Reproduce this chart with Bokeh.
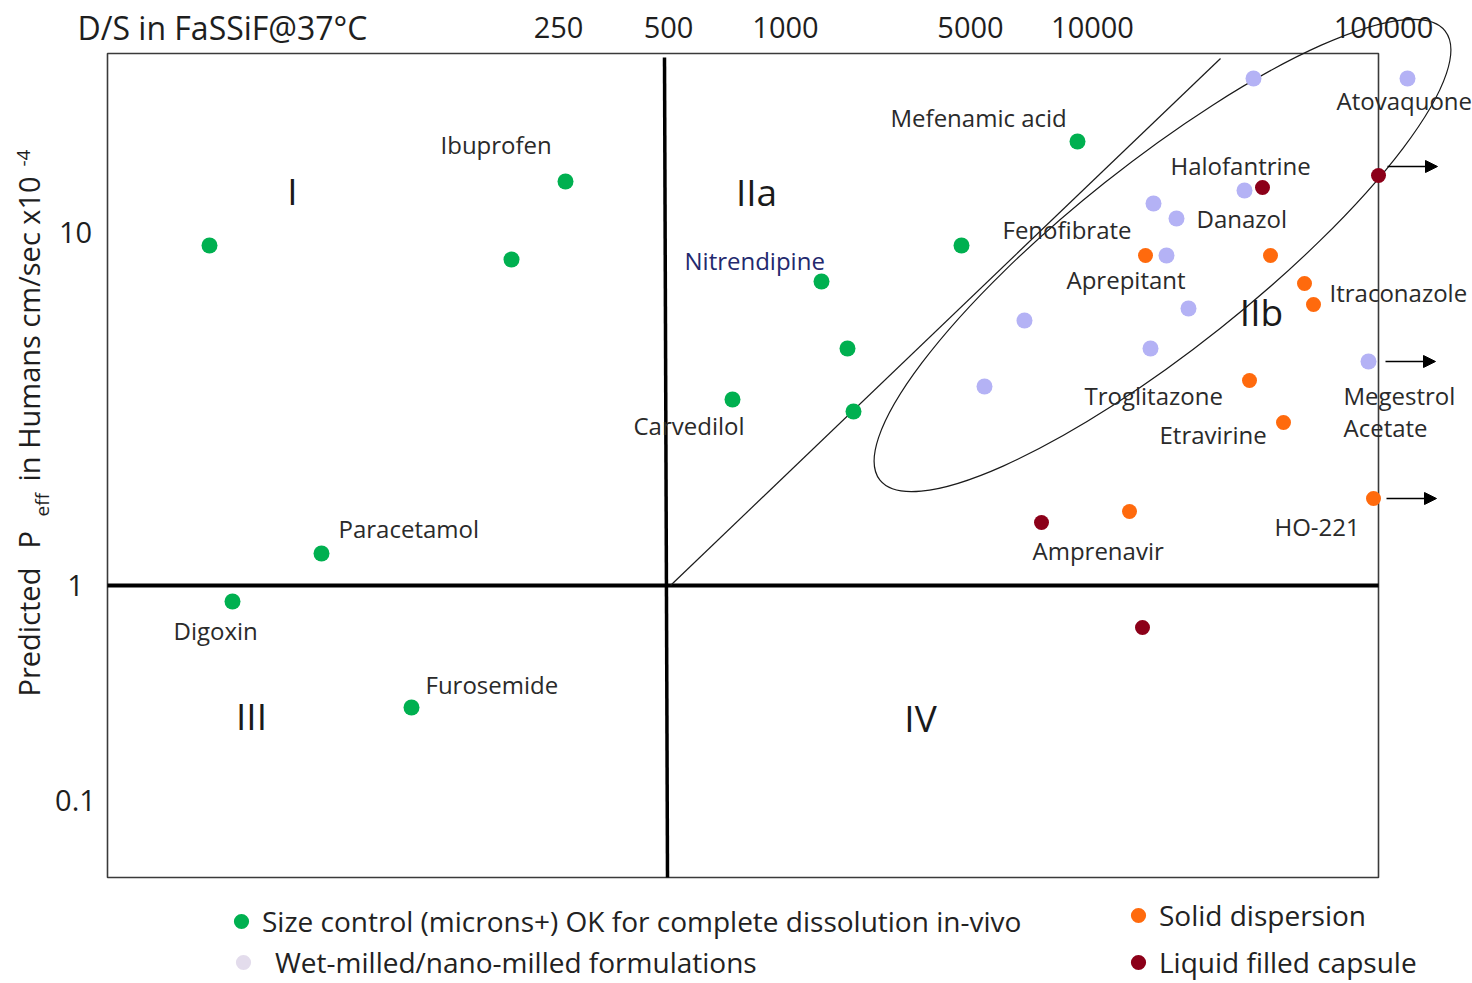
import math
from bokeh.plotting import figure
from bokeh.models import (Range1d, Arrow, NormalHead, Legend, LegendItem)
from bokeh.core.properties import value
from bokeh.embed import file_html
from bokeh.resources import INLINE

FONT = "Open Sans"

# ---------------- axes (hand-drawn, non-uniform: chart position units) ----------------
ds_tick_pos = [451, 561, 678, 863, 985, 1276]
ds_tick_labels = ["250", "500", "1000", "5000", "10000", "100000"]
peff_tick_pos = [645, 292, 77]
peff_tick_labels = ["10", "1", "0.1"]

# ---------------- series (chart position units) ----------------
size_control_x = [102, 458, 404, 214, 125, 304, 625, 714, 740, 746, 854, 970]
size_control_y = [632, 696, 618, 324, 276, 170, 478, 596, 529, 466, 632, 736]

wet_milled_x = [1146, 1300, 1137, 1046, 1069, 1059, 1081, 917, 1043, 877, 1261]
wet_milled_y = [799, 799, 687, 674, 659, 622, 569, 557, 529, 491, 516]

solid_disp_x = [1038, 1163, 1197, 1206, 1142, 1176, 1022, 1266]
solid_disp_y = [622, 622, 594, 573, 497, 455, 366, 379]

liquid_caps_x = [1155, 1271, 934, 1035]
liquid_caps_y = [690, 702, 355, 250]

# drug name labels
drug_names = ["Ibuprofen", "Paracetamol", "Digoxin", "Furosemide", "Carvedilol",
              "Mefenamic acid", "Fenofibrate", "Aprepitant", "Halofantrine", "Danazol",
              "Atovaquone", "Itraconazole", "Troglitazone", "Etravirine", "Megestrol",
              "Acetate", "HO-221", "Amprenavir"]
drug_label_x = [333, 231, 66, 318, 526, 783, 895, 959, 1063, 1089,
                1229, 1222, 977, 1052, 1236, 1236, 1167, 925]
drug_label_y = [733, 349, 247, 193, 452, 760, 648, 598, 712, 659,
                777, 585, 482, 443, 482, 450, 351, 327]
highlight_name = ["Nitrendipine"]
highlight_x = [577]
highlight_y = [617]

# BCS class labels
class_names = ["I", "IIa", "IIb", "III", "IV"]
class_x = [185, 649, 1154, 144, 813]
class_y = [687, 686, 566, 162, 160]

# "beyond the axis" arrows
arrow_x0 = [1280, 1278, 1279]
arrow_x1 = [1330, 1328, 1329]
arrow_y = [711, 516, 379]

# boundaries
box_right, box_top = 1271, 824
peff_one = 292          # Peff = 1 level
ds_500_top, ds_500_bottom = 557, 560
diag_x = [563, 1113]
diag_y = [292, 819]
ell_cx, ell_cy, ell_a, ell_b, ell_angle = 1055, 622, 361, 93, 38.5

# axis titles
x_title = "D/S in FaSSiF@37°C"
y_title_parts = ["Predicted", "P", "eff", "in Humans cm/sec x10", "-4"]
y_title_pos = [181, 329, 361, 396, 711]
y_title_base = [-79, -79, -66, -79, -84]
y_title_size = ["29px", "29px", "19px", "29px", "19px"]

GREEN = "#00b050"
LAV = "#b4b2f5"
LAV_LEGEND = "#e3dcec"
ORANGE = "#ff6a0d"
DRED = "#8c0019"
TXT = "#2a2a2a"
AX = "#1e1e1e"

p = figure(width=1472, height=983, x_range=Range1d(-107, 1365), y_range=Range1d(-106, 877),
           x_axis_location=None, y_axis_location=None, output_backend="svg",
           toolbar_location=None, min_border=0)
p.outline_line_color = None
p.grid.visible = False
p.background_fill_color = "white"
p.border_fill_color = "white"

# tick labels of the hand-drawn axes
p.text(ds_tick_pos, [850] * len(ds_tick_pos), text=ds_tick_labels, text_font=value(FONT),
       text_font_size="29px", text_color=AX, text_align="center", text_baseline="middle")
p.text([-32] * len(peff_tick_pos), peff_tick_pos, text=peff_tick_labels, text_font=value(FONT),
       text_font_size="29px", text_color=AX, text_align="center", text_baseline="middle")
p.text([-30], [850], text=[x_title], text_font=value(FONT), text_font_size="32px",
       text_color=AX, text_align="left", text_baseline="middle")
for txt, ly, lx, fs in zip(y_title_parts, y_title_pos, y_title_base, y_title_size):
    p.text([lx], [ly], text=[txt], angle=math.pi / 2, text_font=value(FONT),
           text_font_size=fs, text_color=AX, text_align="left", text_baseline="alphabetic")

# box and quadrant lines
p.quad(left=[0], right=[box_right], bottom=[0], top=[box_top], fill_color=None,
       line_color="#3a3a3a", line_width=1.6)
p.line([0, box_right], [peff_one, peff_one], line_color="black", line_width=4)
p.line([ds_500_top, ds_500_bottom], [box_top - 4, 0], line_color="black", line_width=3.5)
p.line(diag_x, diag_y, line_color="#1a1a1a", line_width=1.2)

# ellipse
p.ellipse(x=[ell_cx], y=[ell_cy], width=[2 * ell_a], height=[2 * ell_b],
          angle=math.radians(ell_angle), fill_color=None, line_color="#1a1a1a", line_width=1.2)

# points (the pale copy underneath the wet-milled points supplies the legend swatch colour)
r_green = p.scatter(size_control_x, size_control_y, size=16, fill_color=GREEN, line_color=None)
r_lav_legend = p.scatter(wet_milled_x, wet_milled_y, size=15, fill_color=LAV_LEGEND, line_color=None)
r_lav = p.scatter(wet_milled_x, wet_milled_y, size=16, fill_color=LAV, line_color=None)
r_orange = p.scatter(solid_disp_x, solid_disp_y, size=15, fill_color=ORANGE, line_color=None)
r_dred = p.scatter(liquid_caps_x, liquid_caps_y, size=15, fill_color=DRED, line_color=None)

# arrows
for x0, x1, y in zip(arrow_x0, arrow_x1, arrow_y):
    p.add_layout(Arrow(x_start=x0, y_start=y, x_end=x1, y_end=y, line_width=1.6,
                       line_color="black",
                       end=NormalHead(size=12, fill_color="black", line_color="black")))

# text labels
p.text(drug_label_x, drug_label_y, text=drug_names, text_font=value(FONT),
       text_font_size="24px", text_color=TXT, text_align="left", text_baseline="middle")
p.text(highlight_x, highlight_y, text=highlight_name, text_font=value(FONT),
       text_font_size="24px", text_color="#23296e", text_align="left", text_baseline="middle")
p.text(class_x, class_y, text=class_names, text_font=value(FONT),
       text_font_size="37px", text_color="#1a1a1a", text_align="center", text_baseline="middle")

# legends
def make_legend(items, loc, spacing, standoff=2):
    lg = Legend(items=items, location=loc, orientation="vertical", spacing=spacing,
                glyph_width=38, glyph_height=38, label_height=38, label_standoff=standoff,
                padding=0, margin=0, border_line_alpha=0, background_fill_alpha=0,
                label_text_font=FONT, label_text_font_size="28px", label_text_color="#222222")
    p.add_layout(lg)
    return lg

make_legend([LegendItem(label="Size control (microns+) OK for complete dissolution in-vivo",
                        renderers=[r_green])], (222, 43), 10)
make_legend([LegendItem(label="Wet-milled/nano-milled formulations", renderers=[r_lav_legend])],
            (224, 2), 10, standoff=13)
make_legend([LegendItem(label="Solid dispersion", renderers=[r_orange]),
             LegendItem(label="Liquid filled capsule", renderers=[r_dred])],
            (1119, 2), 9)

open("out.html", "w").write(file_html(p, INLINE))
